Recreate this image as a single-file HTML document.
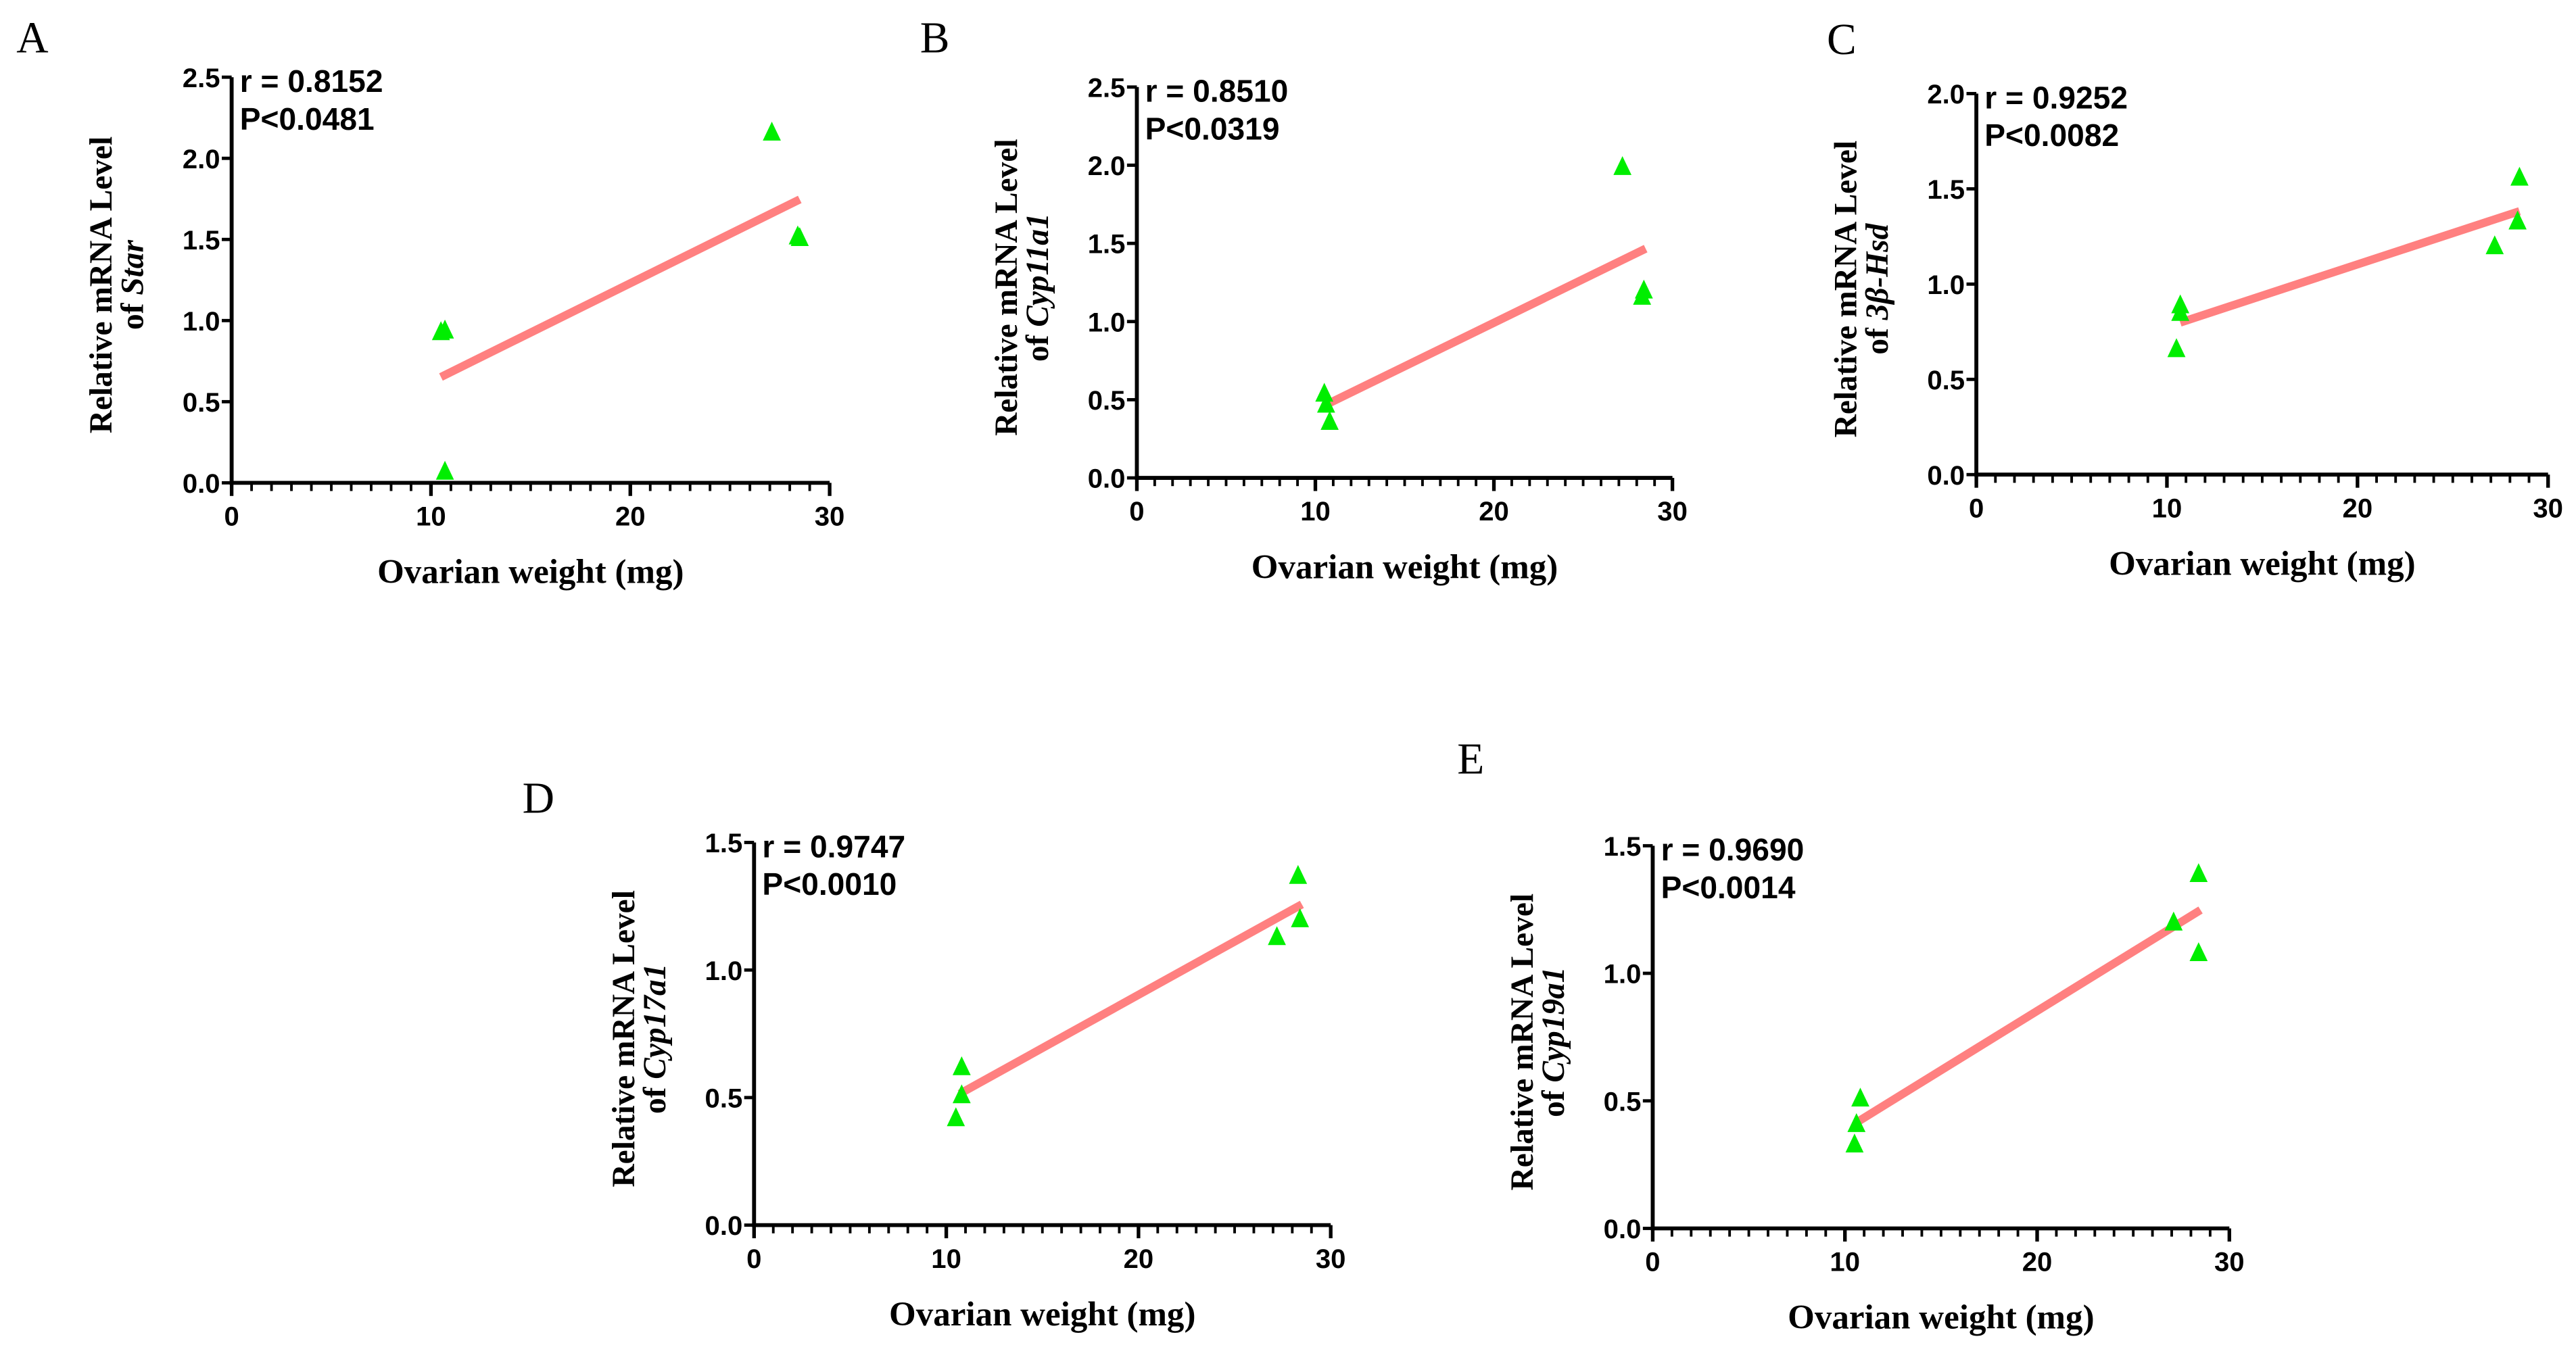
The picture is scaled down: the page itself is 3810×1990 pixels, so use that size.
<!DOCTYPE html>
<html><head><meta charset="utf-8"><style>
html,body{margin:0;padding:0;background:#fff;}
svg{display:block;}
.tick{font-family:"Liberation Sans",sans-serif;font-weight:bold;font-size:16.5px;}
.ttl{font-family:"Liberation Serif",serif;font-weight:bold;font-size:19.5px;}
.xttl{font-family:"Liberation Serif",serif;font-weight:bold;font-size:21px;}
.stat{font-family:"Liberation Sans",sans-serif;font-weight:bold;font-size:19px;}
.let{font-family:"Liberation Serif",serif;font-size:27px;}
</style></head><body>
<svg id="fig" width="3810" height="1990" viewBox="0 0 1568 819" preserveAspectRatio="none" xmlns="http://www.w3.org/2000/svg"></svg>
<script>
// data per panel (x = ovarian weight mg, y = relative mRNA)
const panelLetters = ["A","B","C","D","E"];
const genes = ["Star","Cyp11a1","3β-Hsd","Cyp17a1","Cyp19a1"];
const rValues = ["r = 0.8152","r = 0.8510","r = 0.9252","r = 0.9747","r = 0.9690"];
const pValues = ["P<0.0481","P<0.0319","P<0.0082","P<0.0010","P<0.0014"];
const yMax = [2.5,2.5,2.0,1.5,1.5];
const xTicks = [0,10,20,30];
const weightsA = [10.5,10.7,10.7,27.1,28.4,28.5];
const levelsA = [0.93,0.94,0.07,2.16,1.52,1.51];
const weightsB = [10.5,10.6,10.8,27.2,28.4,28.3];
const levelsB = [0.54,0.47,0.36,1.99,1.20,1.16];
const weightsC = [10.5,10.7,10.7,27.2,28.4,28.5];
const levelsC = [0.66,0.85,0.89,1.20,1.33,1.56];
const weightsD = [10.5,10.8,10.8,27.2,28.4,28.3];
const levelsD = [0.42,0.51,0.62,1.13,1.20,1.37];
const weightsE = [10.5,10.6,10.8,27.1,28.4,28.4];
const levelsE = [0.33,0.41,0.51,1.20,1.08,1.39];
const weights = [weightsA,weightsB,weightsC,weightsD,weightsE];
const levels = [levelsA,levelsB,levelsC,levelsD,levelsE];
const fitStartX = [10.5,10.5,10.7,10.7,10.7];
const fitEndX = [28.5,28.5,28.5,28.5,28.5];

// layout (figure units)
const layout = [
 {ax:141,top:47,bot:294,right:505,lx:10,ly:32},
 {ax:692,top:53,bot:291,right:1018,lx:560,ly:32},
 {ax:1203,top:57,bot:289,right:1551,lx:1112,ly:33},
 {ax:459,top:513,bot:746,right:810,lx:318,ly:495},
 {ax:1006,top:515,bot:748,right:1357,lx:887,ly:471}
];
const NS="http://www.w3.org/2000/svg";
const svg=document.getElementById('fig');
function mk(tag,attrs,parent,text){const e=document.createElementNS(NS,tag);for(const k in attrs)e.setAttribute(k,attrs[k]);if(text!==undefined)e.textContent=text;(parent||svg).appendChild(e);return e;}

layout.forEach((L,i)=>{
  const g=mk('g',{});
  
  
  const xs=v=>L.ax+(v/30)*(L.right-L.ax);
  const ys=v=>L.bot-(v/yMax[i])*(L.bot-L.top);
  const let_=mk('text',{x:L.lx,y:L.ly,class:'let'},g,panelLetters[i]);
  
  
  const ya=mk('line',{x1:L.ax,y1:L.top,x2:L.ax,y2:L.bot+1.2,stroke:'#000','stroke-width':2.4},g);
  
  
  const xa=mk('line',{x1:L.ax-1.2,y1:L.bot,x2:L.right,y2:L.bot,stroke:'#000','stroke-width':2.4},g);
  
  
  for(let v=0;v<=yMax[i]+1e-9;v+=0.5){
    const y=ys(v);
    mk('line',{x1:L.ax-6,y1:y,x2:L.ax,y2:y,stroke:'#000','stroke-width':2},g);
    const t=mk('text',{x:L.ax-7,y:y+6,class:'tick','text-anchor':'end'},g,v.toFixed(1));
    
    
  }
  for(let v=0;v<=30;v++){
    const x=xs(v);const major=v%10===0;
    mk('line',{x1:x,y1:L.bot,x2:x,y2:L.bot+(major?8:5),stroke:'#000','stroke-width':major?2.2:1.6},g);
  }
  xTicks.forEach(v=>{
    const t=mk('text',{x:xs(v),y:L.bot+26,class:'tick','text-anchor':'middle'},g,String(v));
    
    
  });
  const xt=mk('text',{x:(L.ax+L.right)/2,y:L.bot+61,class:'xttl','text-anchor':'middle'},g,'Ovarian weight (mg)');
  
  
  const cy=(L.top+L.bot)/2+3;
  const yt=mk('text',{transform:`translate(${L.ax-73},${cy}) rotate(-90)`,class:'ttl','text-anchor':'middle'},g,'Relative mRNA Level');
  
  
  const yt2=mk('text',{transform:`translate(${L.ax-54},${cy}) rotate(-90)`,class:'ttl','text-anchor':'middle'},g);
  
  
  mk('tspan',{},yt2,'of ');
  mk('tspan',{'font-style':'italic'},yt2,genes[i]);
  const st=mk('text',{x:L.ax+5,y:L.top+9,class:'stat'},g,rValues[i]);
  
  
  const sp=mk('text',{x:L.ax+5,y:L.top+32,class:'stat'},g,pValues[i]);
  
  
  const X=weights[i],Y=levels[i],n=X.length;
  const mx=X.reduce((a,b)=>a+b)/n,my=Y.reduce((a,b)=>a+b)/n;
  let sxy=0,sxx=0;for(let k=0;k<n;k++){sxy+=(X[k]-mx)*(Y[k]-my);sxx+=(X[k]-mx)**2;}
  const b=sxy/sxx,a=my-b*mx;
  const fl=mk('line',{x1:xs(fitStartX[i]),y1:ys(a+b*fitStartX[i]),x2:xs(fitEndX[i]),y2:ys(a+b*fitEndX[i]),stroke:'#ff8080','stroke-width':5},g);
  
  
  for(let k=0;k<n;k++){
    const x=xs(X[k]),y=ys(Y[k]);
    const p=mk('polygon',{points:`${x},${y-6.5} ${x-5.5},${y+5} ${x+5.5},${y+5}`,fill:'#00ee00'},g);
    
    
  }
});
</script>
</body></html>
